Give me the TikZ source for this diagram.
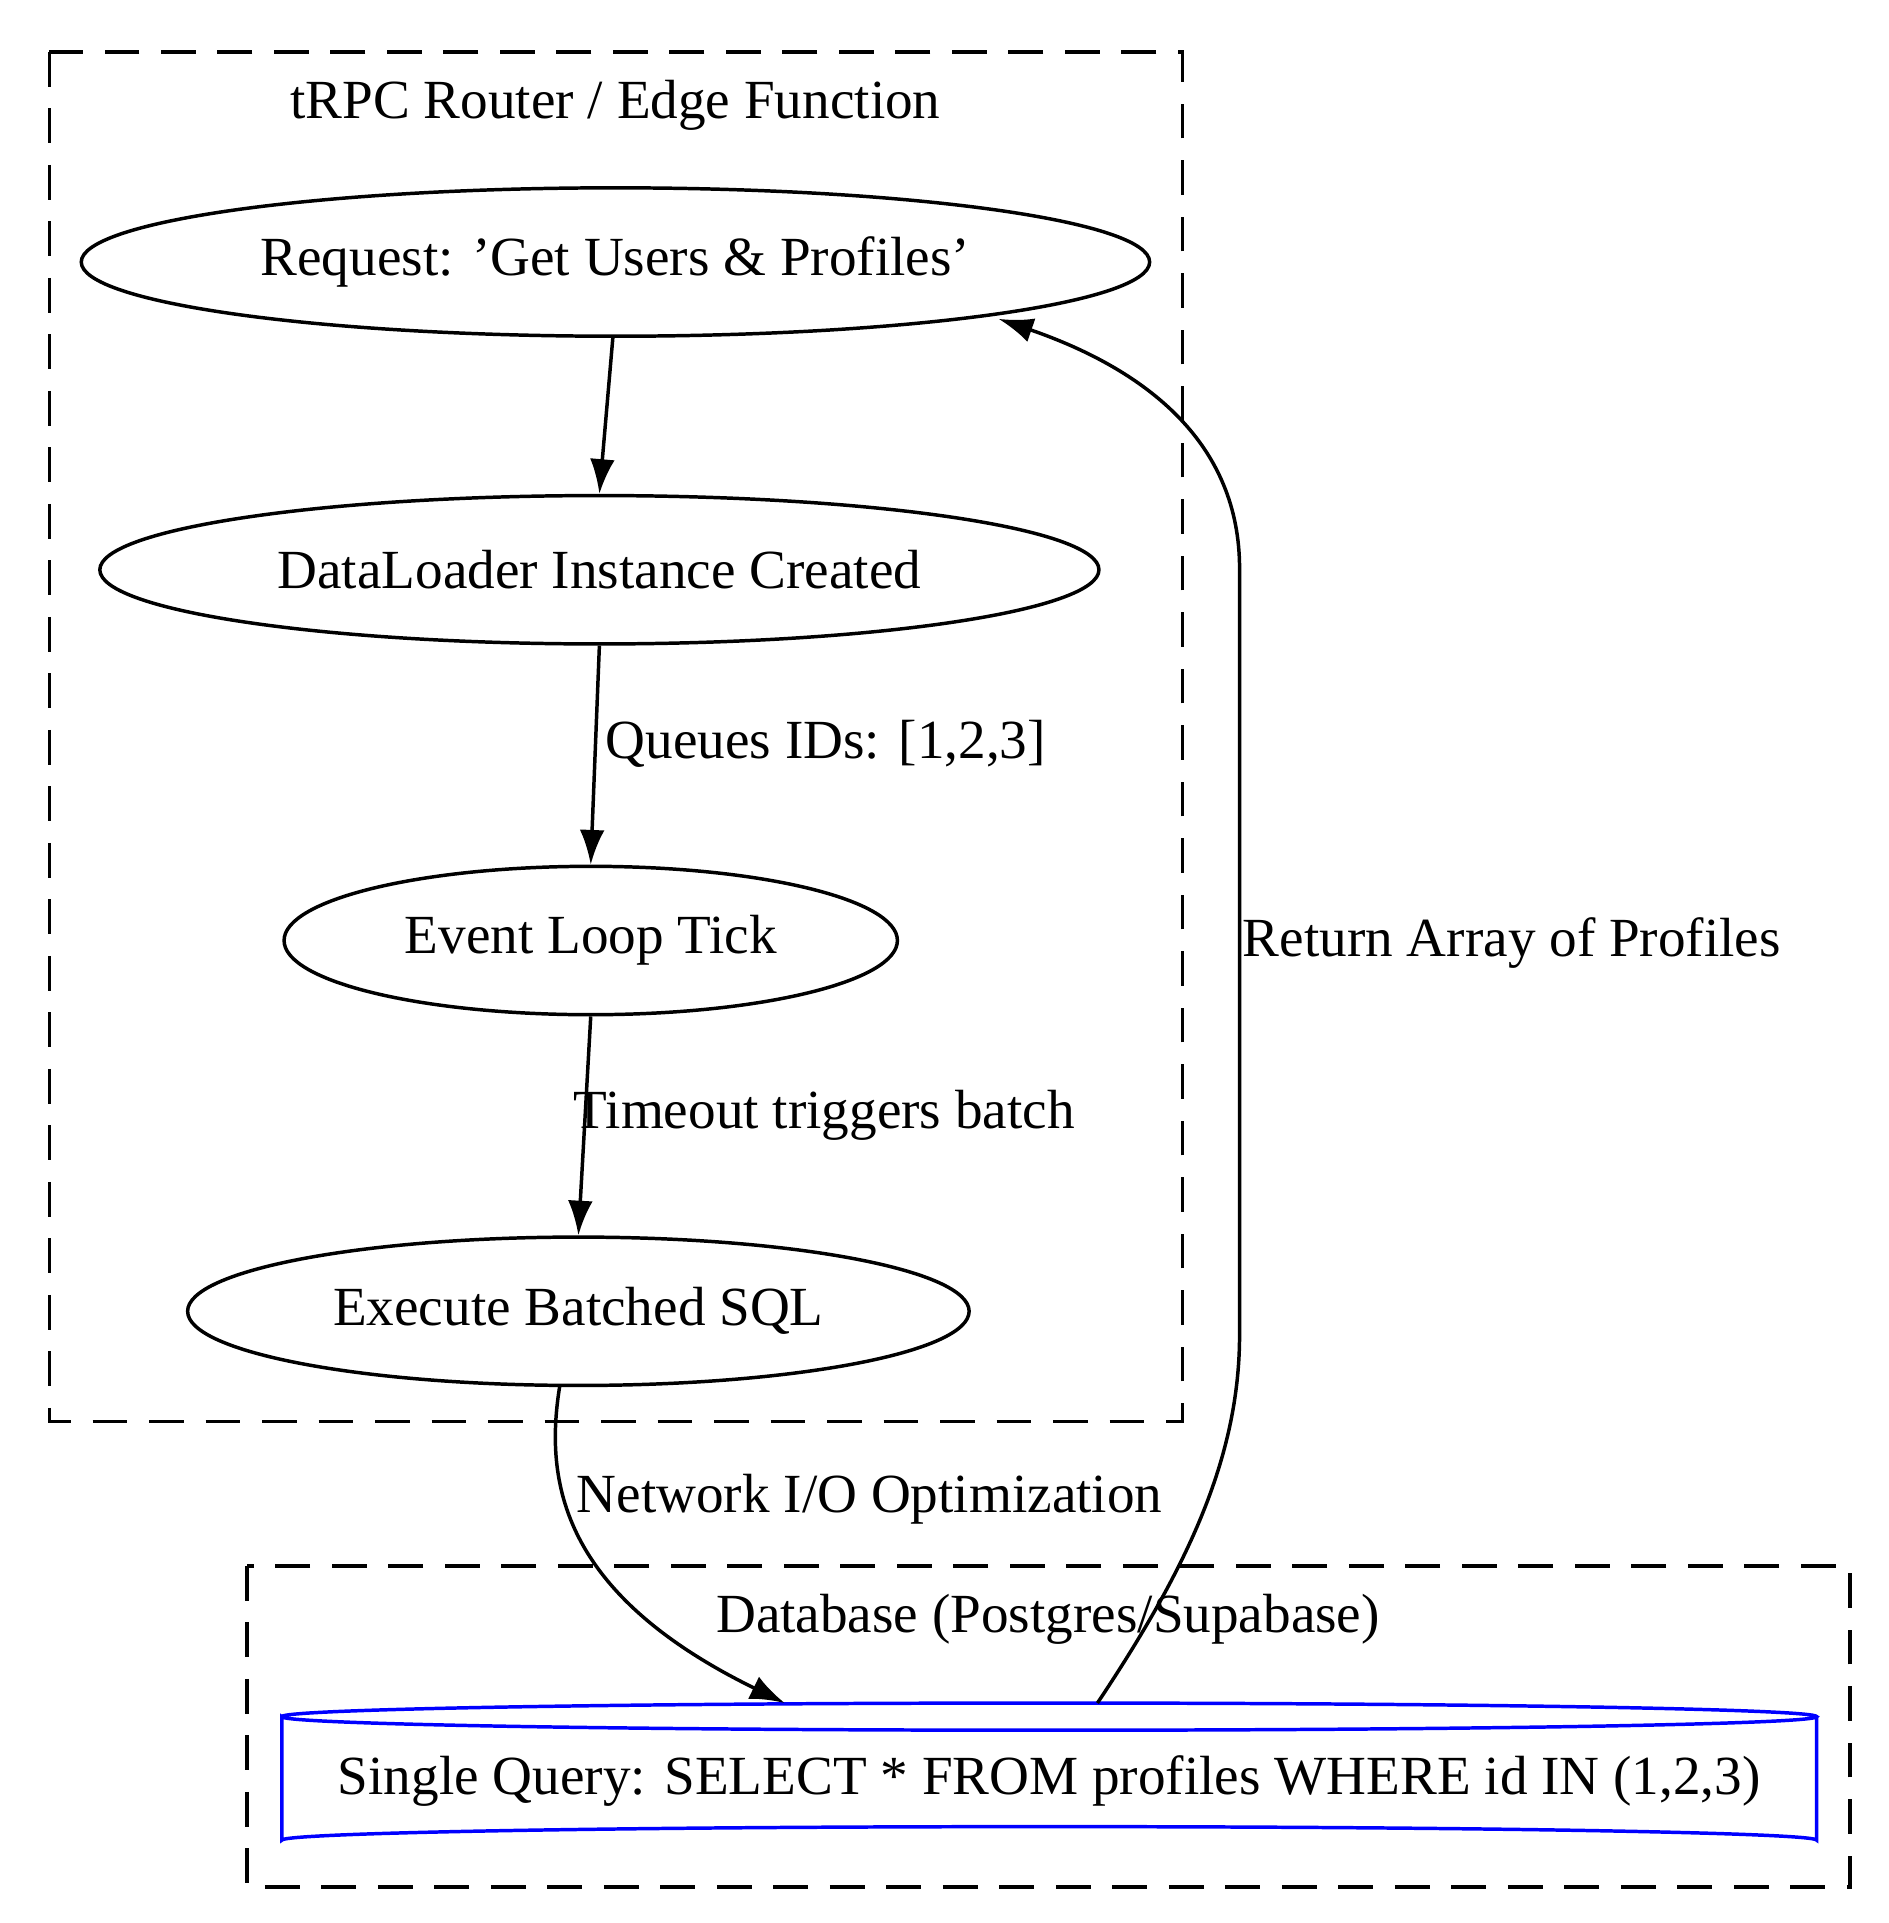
\documentclass[tikz,border=0pt]{standalone}
\usepackage{fontspec}
\setmainfont{Liberation Serif}
\usetikzlibrary{arrows.meta,shapes.geometric}
\begin{document}
\begin{tikzpicture}[x=0.01cm,y=-0.01cm,
  every node/.style={font=\fontsize{12.7}{14}\selectfont},
  ell/.style={draw,thick,ellipse,inner sep=0},
  clus/.style={draw,thick,dash pattern=on 8pt off 5pt},
  arr/.style={thick,-{Latex[length=0.28cm,width=0.2cm]}},
  lab/.style={anchor=west,inner sep=0}]
\useasboundingbox (0,0) rectangle (1528,1556);
\draw[clus] (40,42) rectangle (957,1150);
\node (c1) at (498,85) {tRPC Router / Edge Function};
\draw[clus] (200,1267) rectangle (1497,1527);
\node (c2) at (848,1310) {Database (Postgres/Supabase)};
\node[ell,minimum width=8.64cm,minimum height=1.2cm] (req) at (498,212) {Request: {\char"27}Get Users \& Profiles{\char"27}};
\node[ell,minimum width=8.08cm,minimum height=1.2cm] (dl) at (485,461) {DataLoader Instance Created};
\node[ell,minimum width=4.96cm,minimum height=1.2cm] (ev) at (478,761) {Event Loop Tick};
\node[ell,minimum width=6.32cm,minimum height=1.2cm] (ex) at (468,1061) {Execute Batched SQL};
\draw[blue,thick] (228,1389) arc[start angle=180,end angle=360,x radius=621,y radius=11]
  arc[start angle=0,end angle=180,x radius=621,y radius=11] -- (228,1489)
  arc[start angle=180,end angle=360,x radius=621,y radius=11] -- (1470,1389);
\node (db) at (849,1441) {Single Query: SELECT * FROM profiles WHERE id IN (1,2,3)};
\coordinate (dbtop1) at (635,1378);
\coordinate (dbtop2) at (888,1378);
\draw[arr] (496,272) -- (dl.north);
\draw[arr] (dl.south) -- (ev.north) node[lab,pos=0.45,xshift=2pt] {Queues IDs: [1,2,3]};
\draw[arr] (ev.south) -- (ex.north) node[lab,pos=0.45,xshift=-3pt] {Timeout triggers batch};
\draw[arr] (453,1121) .. controls (440,1200) and (455,1290) .. (dbtop1);
\node[lab] (l3) at (466,1213) {Network I/O Optimization};
\draw[arr] (dbtop2) .. controls (960,1270) and (1003,1180) .. (1003,1080) -- (1003,460) .. controls (1003,360) and (930,300) .. (808,258);
\node[lab] (l4) at (1005,763) {Return Array of Profiles};
\end{tikzpicture}
\end{document}
